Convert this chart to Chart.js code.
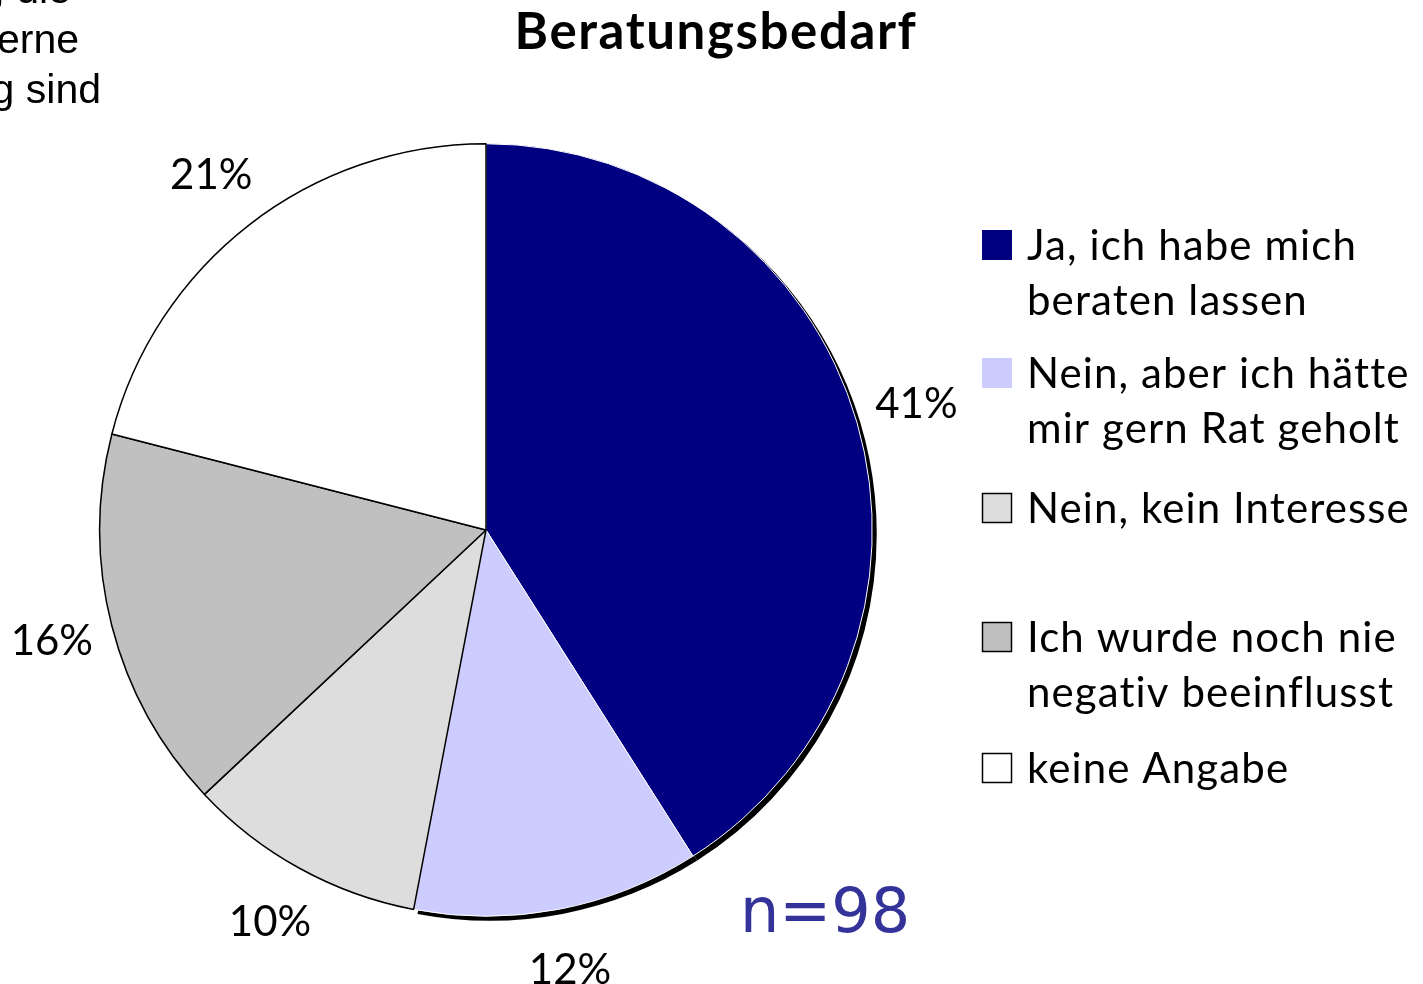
<!DOCTYPE html>
<html>
<head>
<meta charset="utf-8">
<script src="https://cdn.jsdelivr.net/npm/chart.js@4/dist/chart.umd.min.js"></script>
<style>
  html, body { margin: 0; padding: 0; background: #fff; }
  #wrap { width: 1423px; height: 984px; position: relative; }
</style>
</head>
<body>
<div id="wrap"><canvas id="myChart"></canvas></div>
<script>
// data
const categories = [
    ["Ja, ich habe mich", "beraten lassen"],
    ["Nein, aber ich hätte", "mir gern Rat geholt"],
    ["Nein, kein Interesse"],
    ["Ich wurde noch nie", "negativ beeinflusst"],
    ["keine Angabe"]
];
const shares = [41, 12, 10, 16, 21];
const sliceColors = ["#000080", "#CCCCFF", "#DDDDDD", "#C0C0C0", "#FFFFFF"];
const titleText = "Beratungsbedarf";
const sampleText = "n=98";
// cut-off text fragments at the top left corner
const cornerLines = [", die", "erne", "g sind"];

// legend rows: baseline of first line for each entry
const legendBaselines = [260, 388, 523, 652, 783];

// the two blue slices carry a small dark shadow in the original
const shadowed = [true, true, false, false, false];

const extras = {
    id: 'extras',
    beforeDatasetsDraw(chart) {
        const ctx = chart.ctx;
        const meta = chart.getDatasetMeta(0);
        ctx.save();
        ctx.fillStyle = "#000";
        meta.data.forEach(function(arc, i) {
            if (!shadowed[i]) return;
            const p = arc.getProps(['x', 'y', 'startAngle', 'endAngle', 'outerRadius'], true);
            ctx.beginPath();
            ctx.moveTo(p.x + 4, p.y + 4);
            ctx.arc(p.x + 4, p.y + 4, p.outerRadius + 0.5, p.startAngle, p.endAngle);
            ctx.closePath();
            ctx.fill();
        });
        ctx.restore();
    },
    afterDraw(chart) {
        const ctx = chart.ctx;
        const meta = chart.getDatasetMeta(0);
        ctx.save();

        // percent labels outside the slices
        ctx.fillStyle = "#000";
        ctx.font = "42px Lato";
        ctx.textAlign = "center";
        ctx.textBaseline = "middle";
        meta.data.forEach(function(arc, i) {
            const p = arc.getProps(['x', 'y', 'startAngle', 'endAngle', 'outerRadius'], true);
            const mid = (p.startAngle + p.endAngle) / 2;
            const dist = p.outerRadius + 62;
            ctx.fillText(shares[i] + "%", p.x + Math.cos(mid) * dist, p.y + Math.sin(mid) * dist);
        });

        // title
        ctx.font = "bold 51px Lato";
        ctx.textBaseline = "alphabetic";
        ctx.letterSpacing = "1.6px";
        ctx.fillText(titleText, 716, 49);
        ctx.letterSpacing = "0px";

        // n
        ctx.fillStyle = "#333399";
        ctx.font = "62px 'DejaVu Sans'";
        ctx.textAlign = "left";
        ctx.fillText(sampleText, 740, 932);

        // corner text
        ctx.fillStyle = "#000";
        ctx.font = "41px 'Liberation Sans'";
        ctx.textAlign = "right";
        cornerLines.forEach(function(t, i) {
            ctx.fillText(t, [71, 79, 101][i], 3 + i * 50);
        });

        // legend
        ctx.textAlign = "left";
        ctx.font = "42px Lato";
        ctx.letterSpacing = "1.1px";
        categories.forEach(function(lines, i) {
            const base = legendBaselines[i];
            ctx.fillStyle = sliceColors[i];
            ctx.fillRect(982, base - 30, 30, 30);
            if (i >= 2) {
                ctx.strokeStyle = "#000";
                ctx.lineWidth = 1.5;
                ctx.strokeRect(982.5, base - 29.5, 29, 29);
            }
            ctx.fillStyle = "#000";
            lines.forEach(function(t, j) {
                ctx.fillText(t, 1027, base + j * 55);
            });
        });
        ctx.restore();
    }
};

new Chart(document.getElementById('myChart'), {
    type: 'pie',
    data: {
        labels: categories.map(function(l) { return l.join(" "); }),
        datasets: [{
            data: shares,
            backgroundColor: sliceColors,
            borderColor: ["#FFFFFF", "#FFFFFF", "#000000", "#000000", "#000000"],
            borderWidth: [1, 1, 1.5, 1.5, 1.5],
            hoverOffset: 0
        }]
    },
    options: {
        responsive: true,
        maintainAspectRatio: false,
        animation: false,
        layout: { padding: { left: 99, right: 550, top: 143, bottom: 67 } },
        plugins: {
            legend: { display: false },
            tooltip: { enabled: false }
        }
    },
    plugins: [extras]
});
</script>
</body>
</html>
